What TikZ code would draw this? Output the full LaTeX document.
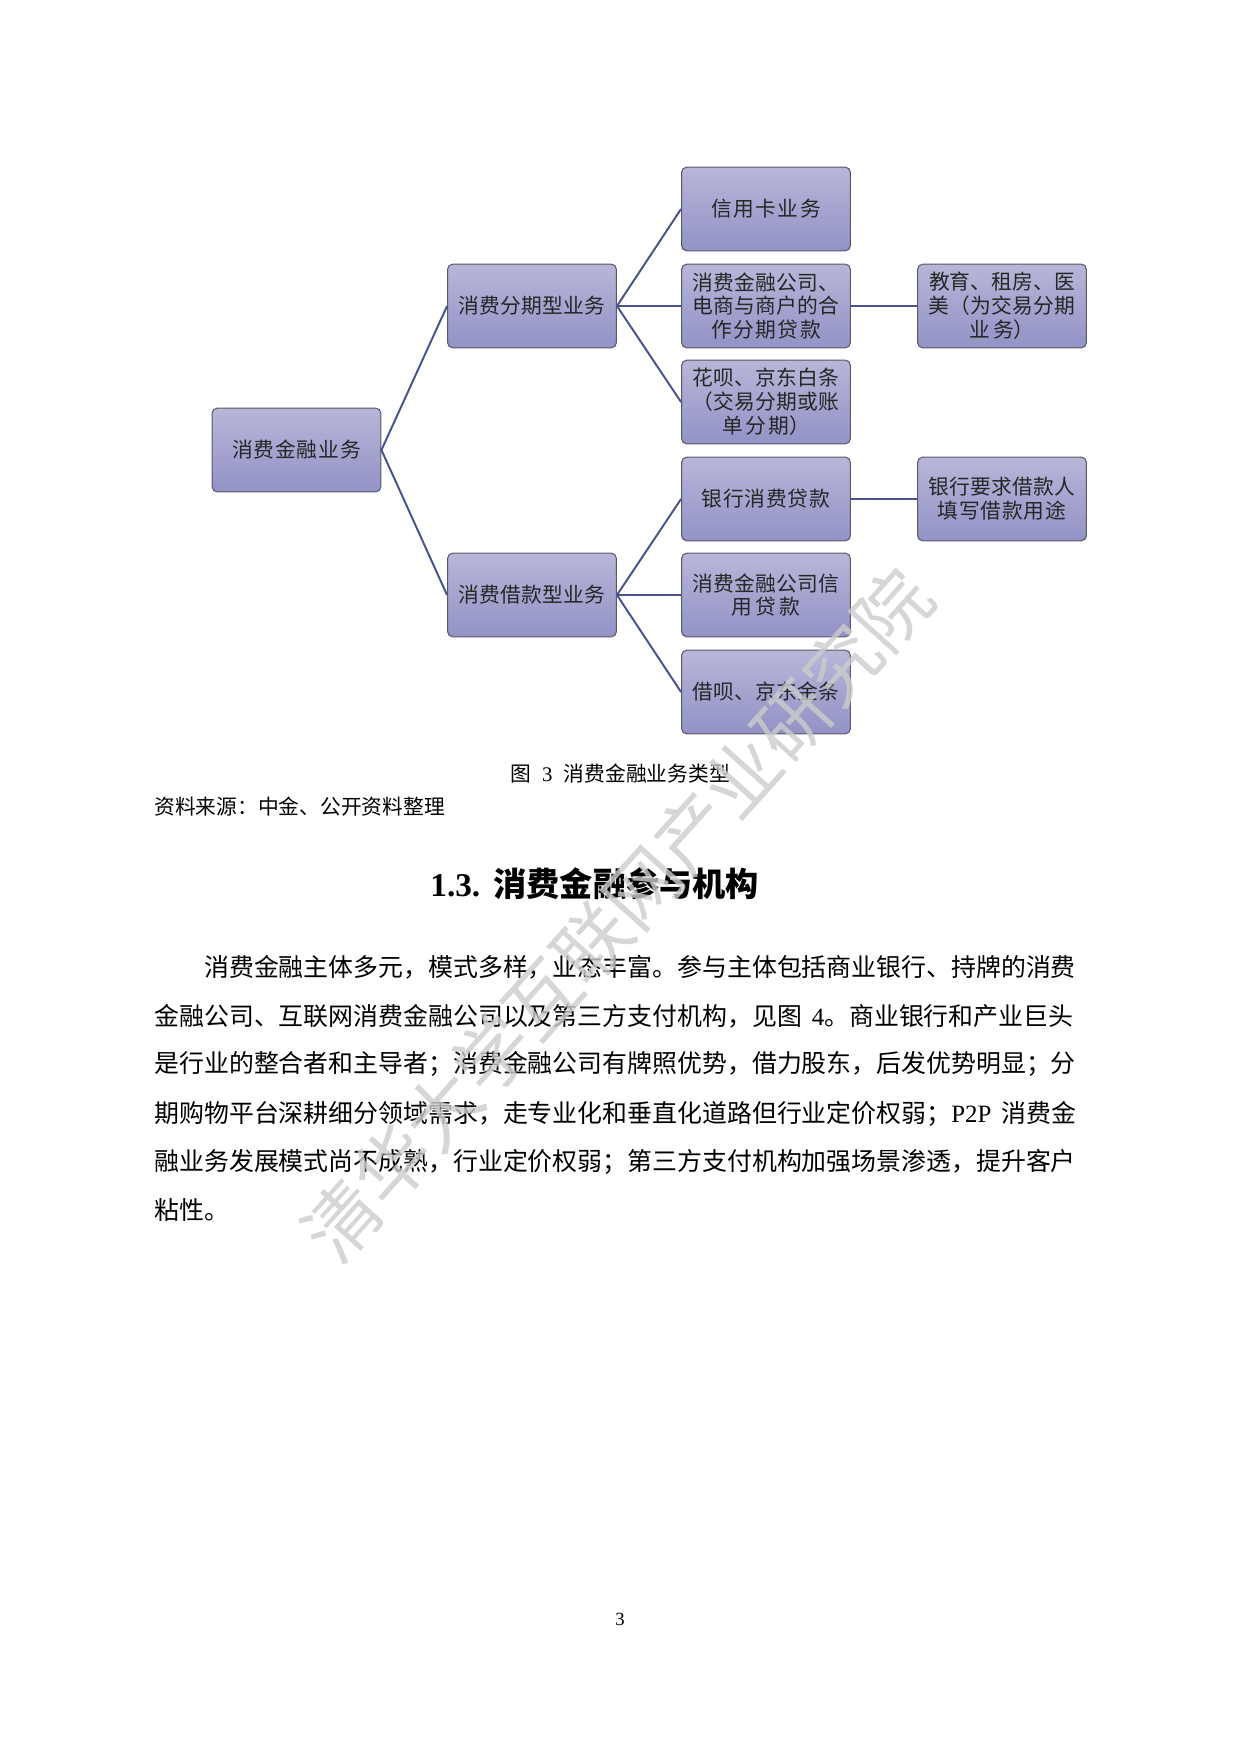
\documentclass[tikz,border=0pt]{standalone}
\usepackage{fontspec}
\setmainfont{Noto Sans CJK SC}
\newfontfamily\lat{Liberation Serif}
\XeTeXlinebreaklocale "zh"
\XeTeXlinebreakskip=0pt plus 1.5pt

\definecolor{boxtop}{RGB}{184,182,216}
\definecolor{boxbot}{RGB}{146,146,198}
\definecolor{boxline}{RGB}{88,88,108}
\definecolor{linkblue}{RGB}{72,84,146}

\tikzset{
  typebox/.style={draw=boxline, line width=0.5pt, top color=boxtop, bottom color=boxbot, rounded corners=0.9mm, minimum width=28.6mm, minimum height=14.2mm, inner sep=0pt, align=center, text width=25.5mm, font=\fontsize{10}{11.5}\selectfont, text=black!85},
  link/.style={draw=linkblue, line width=0.95pt},
  bodyline/.style={anchor=west, inner sep=0pt, text width=157mm, align=justify, font=\fontsize{12}{12}\selectfont}
}

\begin{document}
\begin{tikzpicture}[x=0.16935mm, y=-0.16935mm]
    % Page frame, A4 at 1240 x 1754
    \useasboundingbox (0,0) rectangle (1240,1754);

    % Root of the tree
    \node[typebox] (finance) at (296.5,450) {消费金融业务};

    % Second level
    \node[typebox] (installment) at (532,306) {消费分期型业务};
    \node[typebox] (loan) at (532,595) {消费借款型业务};

    % Third level, installment branch
    \node[typebox] (creditcard) at (766,209) {信用卡业务};
    \node[typebox] (coop) at (766,306) {消费金融公司、\\电商与商户的合\\作分期贷款};
    \node[typebox] (huabei) at (766,402) {花呗、京东白条\\（交易分期或账\\单分期）};

    % Third level, loan branch
    \node[typebox] (bankloan) at (766,499) {银行消费贷款};
    \node[typebox] (cfcloan) at (766,595) {消费金融公司信\\用贷款};
    \node[typebox] (jiebei) at (766,692) {借呗、京东金条};

    % Fourth level notes
    \node[typebox] (edu) at (1002,306) {教育、租房、医\\美（为交易分期\\业务）};
    \node[typebox] (purpose) at (1002,499) {银行要求借款人\\填写借款用途};

    % Connectors
    \draw[link] (finance.east) -- (installment.west);
    \draw[link] (finance.east) -- (loan.west);
    \draw[link] (installment.east) -- (creditcard.west);
    \draw[link] (installment.east) -- (coop.west);
    \draw[link] (installment.east) -- (huabei.west);
    \draw[link] (loan.east) -- (bankloan.west);
    \draw[link] (loan.east) -- (cfcloan.west);
    \draw[link] (loan.east) -- (jiebei.west);
    \draw[link] (coop.east) -- (edu.west);
    \draw[link] (bankloan.east) -- (purpose.west);

    % Caption and source
    \node[font=\fontsize{10}{10}\selectfont] (caption) at (620,774) {图\hspace{0.55em}{\lat 3}\hspace{0.55em}消费金融业务类型};
    \node[anchor=west, inner sep=0pt, font=\fontsize{10}{10}\selectfont] (source) at (154,807) {资料来源：中金、公开资料整理};

    % Section heading
    \node[anchor=west, inner sep=0pt, font=\fontsize{16}{16}\selectfont\bfseries] (heading) at (430,884) {{\lat 1.3.}\hspace{0.4em}消费金融参与机构};

    % Body paragraph, one node per printed line
    \node[bodyline] (line1) at (154,967) {\parfillskip=0pt\hspace*{24pt}消费金融主体多元，模式多样，业态丰富。参与主体包括商业银行、持牌的消费};
    \node[bodyline] (line2) at (154,1016) {\parfillskip=0pt 金融公司、互联网消费金融公司以及第三方支付机构，见图\hspace{0.4em}{\lat 4}。商业银行和产业巨头};
    \node[bodyline] (line3) at (154,1064) {\parfillskip=0pt 是行业的整合者和主导者；消费金融公司有牌照优势，借力股东，后发优势明显；分};
    \node[bodyline] (line4) at (154,1114) {\parfillskip=0pt 期购物平台深耕细分领域需求，走专业化和垂直化道路但行业定价权弱；{\lat P2P}\hspace{0.4em}消费金};
    \node[bodyline] (line5) at (154,1162) {\parfillskip=0pt 融业务发展模式尚不成熟，行业定价权弱；第三方支付机构加强场景渗透，提升客户};
    \node[anchor=west, inner sep=0pt, font=\fontsize{12}{12}\selectfont] (line6) at (154,1210) {粘性。};

    % Page number
    \node[font=\fontsize{9}{9}\selectfont\lat] (pagenum) at (620,1619) {3};

    % Diagonal watermark
    \node[rotate=48, text=gray!40, text opacity=0.8, font=\fontsize{36}{36}\selectfont] (mark) at (617,915) {清华大学互联网产业研究院};
\end{tikzpicture}
\end{document}
